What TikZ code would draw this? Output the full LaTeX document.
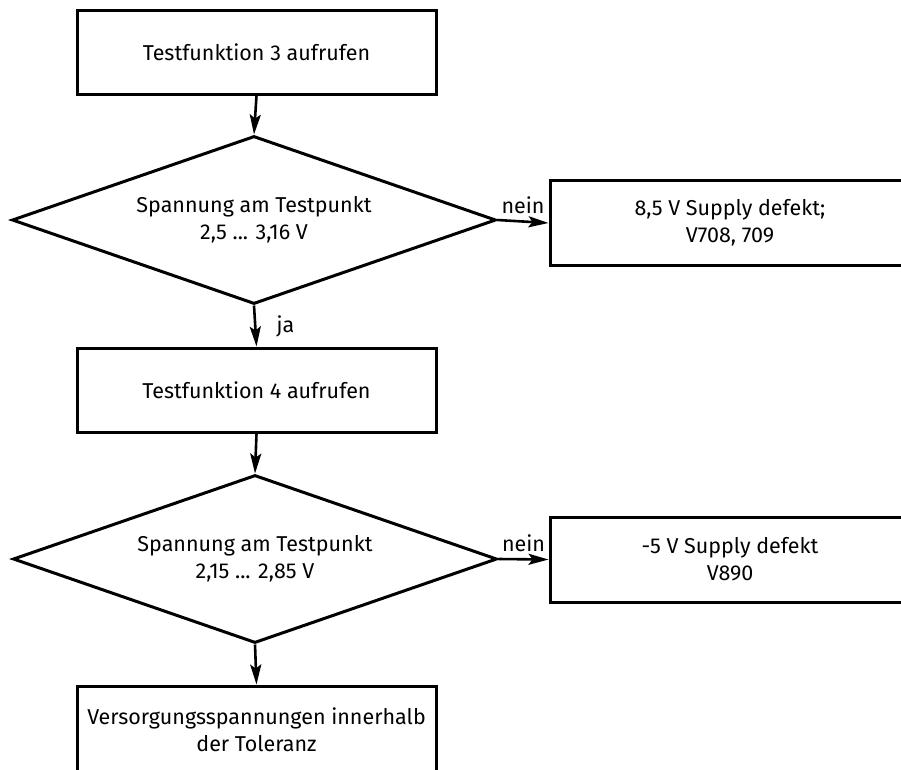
\documentclass[tikz,border=0pt]{standalone}
\usepackage{fontspec}
\setmainfont{Fira Sans}
\usepackage{tikz}
\usetikzlibrary{shapes.geometric, arrows.meta, positioning}

\begin{document}
\begin{tikzpicture}[
  x=1pt, y=-1pt,
  every node/.style={font=\fontsize{21.5}{27}\selectfont},
  procbox/.style={
    rectangle, draw=black, line width=3pt,
    minimum width=359pt, minimum height=84pt,
    align=center, inner sep=0pt},
  errbox/.style={
    rectangle, draw=black, line width=3pt,
    minimum width=360pt, minimum height=85pt,
    align=center, inner sep=0pt},
  testbox/.style={
    diamond, aspect=2.88, draw=black, line width=3pt,
    minimum width=484pt, minimum height=168pt,
    align=center, inner sep=0pt},
  arrowmain/.style={-{Stealth[length=20pt, width=11pt, inset=4pt]},
    line width=2.6pt, draw=black},
  lbl/.style={inner sep=2pt},
]
\useasboundingbox (0,0) rectangle (901,769);

%% ---- Main column ----
\node[procbox] (tf3) at (256.5, 52) {Testfunktion 3 aufrufen};

\node[testbox] (q1) at (254, 220) {%
  Spannung am Testpunkt\\
  2,5 ... 3,16 V};

\node[procbox] (tf4) at (256.5, 390) {Testfunktion 4 aufrufen};

\node[testbox] (q2) at (255, 559) {%
  Spannung am Testpunkt\\
  2,15 ... 2,85 V};

\node[procbox, minimum height=88pt] (ok) at (256.5, 730) {%
  Versorgungsspannungen innerhalb\\
  der Toleranz};

%% ---- Fault boxes (right) ----
\node[errbox] (f1) at (730, 223) {%
  8,5 V Supply defekt;\\
  V708, 709};

\node[errbox] (f2) at (730, 559.5) {%
  -5 V Supply defekt\\
  V890};

%% ---- Arrows ----
\draw[arrowmain] (tf3.south) -- (q1.north);
\draw[arrowmain] (q1.south) --
  node[lbl, right=18pt]{ja} (tf4.north);
\draw[arrowmain] (q1.east) --
  node[lbl, above=4pt]{nein} (f1.west);
\draw[arrowmain] (tf4.south) -- (q2.north);
\draw[arrowmain] (q2.east) --
  node[lbl, above=4pt]{nein} (f2.west);
\draw[arrowmain] (q2.south) -- (ok.north);

\end{tikzpicture}
\end{document}
